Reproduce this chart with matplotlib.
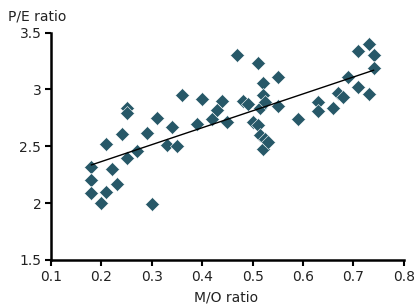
import numpy as np
import matplotlib
matplotlib.use("Agg")
import matplotlib.pyplot as plt

# M/O ratio vs P/E ratio
mo_ratio = [0.18, 0.18, 0.18, 0.20, 0.21, 0.22, 0.23, 0.21, 0.24, 0.25,
            0.25, 0.25, 0.27, 0.29, 0.30, 0.31, 0.33, 0.34, 0.35, 0.36,
            0.39, 0.40, 0.42, 0.43, 0.44, 0.45, 0.47, 0.48, 0.49, 0.50,
            0.51, 0.51, 0.515, 0.515, 0.52, 0.52, 0.52, 0.525, 0.525, 0.53,
            0.55, 0.55, 0.59, 0.63, 0.63, 0.66, 0.67, 0.68, 0.69, 0.71,
            0.71, 0.73, 0.73, 0.74, 0.74]
pe_ratio = [2.32, 2.20, 2.09, 2.00, 2.10, 2.30, 2.17, 2.52, 2.61, 2.84,
            2.79, 2.40, 2.46, 2.62, 1.99, 2.75, 2.51, 2.67, 2.50, 2.95,
            2.70, 2.92, 2.74, 2.82, 2.90, 2.71, 3.30, 2.90, 2.87, 2.71,
            3.23, 2.69, 2.84, 2.60, 3.06, 2.95, 2.48, 2.89, 2.56, 2.54,
            3.11, 2.85, 2.74, 2.89, 2.81, 2.84, 2.97, 2.93, 3.11, 3.34,
            3.02, 3.40, 2.96, 3.30, 3.19]

x_ticks = [0.1, 0.2, 0.3, 0.4, 0.5, 0.6, 0.7, 0.8]
y_ticks = [1.5, 2.0, 2.5, 3.0, 3.5]
y_labels = ["1.5", "2", "2.5", "3", "3.5"]

x = np.array(mo_ratio)
y = np.array(pe_ratio)
# linear trend through the scatter
slope, intercept = np.polyfit(x, y, 1)
xl = np.array([x.min(), x.max()])

fig = plt.figure(figsize=(4.15, 3.05), dpi=100)
ax = fig.add_axes([0.123, 0.148, 0.850, 0.745])

ax.plot(x, y, linestyle="none", marker="D", markersize=7.1,
        color="#275868", markeredgecolor="white", markeredgewidth=0.4, zorder=2)
ax.plot(xl, slope * xl + intercept, color="black", linewidth=1.0, zorder=3)

ax.set_xlim(0.1, 0.8)
ax.set_ylim(1.5, 3.5)
ax.set_xticks(x_ticks)
ax.set_xticklabels([f"{v:.1f}" for v in x_ticks])
ax.set_yticks(y_ticks)
ax.set_yticklabels(y_labels)
ax.tick_params(labelsize=10, length=4, width=1.5, color="black",
               labelcolor="#222", pad=3)

for s in ["top", "right"]:
    ax.spines[s].set_visible(False)
for s in ["left", "bottom"]:
    ax.spines[s].set_linewidth(1.8)

fig.text(0.02, 0.945, "P/E ratio", fontsize=10, color="#222", va="center")
fig.text(0.545, 0.025, "M/O ratio", fontsize=10, color="#222", ha="center", va="center")

fig.savefig("out.png", dpi=100)
